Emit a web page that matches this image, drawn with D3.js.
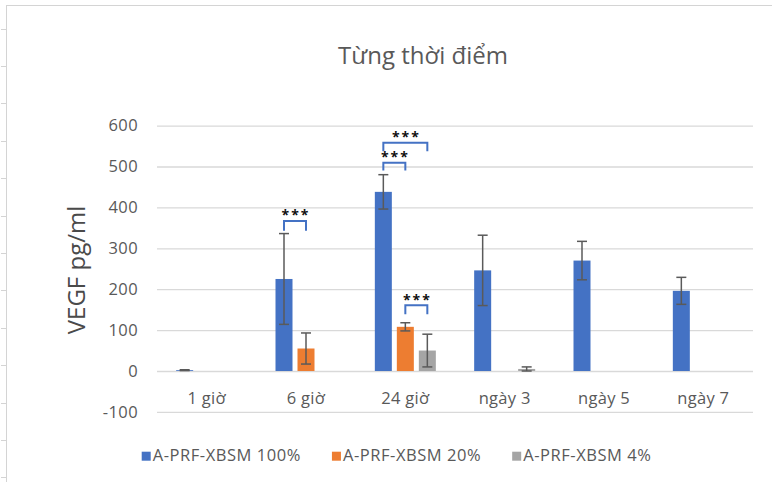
<!DOCTYPE html>
<html>
<head>
<meta charset="utf-8">
<script src="https://cdn.jsdelivr.net/npm/d3@7"></script>
<style>
  html, body { margin: 0; padding: 0; background: #ffffff; }
  svg { display: block; }
  text { font-family: "Open Sans", "Noto Sans", sans-serif; }
</style>
</head>
<body>
<svg id="chart" width="772" height="482"></svg>
<script>
// Categories (time points) and series
const categories = ["1 giờ", "6 giờ", "24 giờ", "ngày 3", "ngày 5", "ngày 7"];
const seriesNames = ["A-PRF-XBSM 100%", "A-PRF-XBSM 20%", "A-PRF-XBSM 4%"];

// VEGF (pg/ml) means and error (±) per series; null = not drawn
const values100 = [2, 225, 438, 246, 270, 196];
const errors100 = [1, 111, 42, 86, 47, 33];
const values20  = [null, 55, 108, null, null, null];
const errors20  = [null, 38, 10, null, null, null];
const values4   = [null, null, 50, 5, null, null];
const errors4   = [null, null, 40, 5, null, null];

const yTicks = [-100, 0, 100, 200, 300, 400, 500, 600];

// Significance brackets: category, series pair, bracket level and leg end (pg/ml)
const sigCategory = ["6 giờ", "24 giờ", "24 giờ", "24 giờ"];
const sigFrom     = [0, 0, 0, 1];
const sigTo       = [1, 1, 2, 2];
const sigLevel    = [367, 509, 558, 161];
const sigLegEnd   = [343, 490, 537, 139];
const sigLabel    = ["***", "***", "***", "***"];

const colors = ["#4472C4", "#ED7D31", "#A5A5A5"];
const textColor = "#595959";

const svg = d3.select("#chart");

// frame lines of the sheet area
const frame = svg.append("g").attr("stroke", "#d4d4d4").attr("stroke-width", 1);
frame.append("line").attr("x1", 6).attr("x2", 772).attr("y1", 5.5).attr("y2", 5.5);
frame.append("line").attr("x1", 6.5).attr("x2", 6.5).attr("y1", 5).attr("y2", 482);
d3.range(28.5, 482, 37.4).forEach(y => {
  frame.append("line").attr("x1", 1).attr("x2", 6).attr("y1", Math.round(y) + 0.5).attr("y2", Math.round(y) + 0.5);
});

const x = d3.scaleBand().domain(categories).range([157, 753]).padding(0);
const sub = d3.scalePoint().domain([0, 1, 2]).range([-22, 22]);
const barW = 17;
const y = d3.scaleLinear().domain([-100, 600]).range([411.9, 125.6]);

// gridlines + y tick labels
const yAxis = d3.axisLeft(y).tickValues(yTicks).tickFormat(d => String(d))
  .tickSize(-(753 - 157)).tickPadding(19);
const gy = svg.append("g").attr("transform", "translate(157,0)").call(yAxis);
gy.select(".domain").remove();
gy.selectAll(".tick line").attr("stroke", "#d9d9d9").attr("stroke-width", 1.3);
gy.selectAll(".tick text").attr("fill", textColor).attr("font-size", 16.5)
  .attr("letter-spacing", 0.4)
  .attr("font-family", "'Open Sans', sans-serif");

// x category labels
const xAxis = d3.axisBottom(x).tickSize(0).tickPadding(0);
const gx = svg.append("g").attr("transform", "translate(0,388)").call(xAxis);
gx.select(".domain").remove();
gx.selectAll(".tick text").attr("fill", textColor).attr("font-size", 16.5)
  .attr("letter-spacing", 0.3)
  .attr("font-family", "'Open Sans', sans-serif").attr("dy", "0.95em");

// bars
const seriesVals = [values100, values20, values4];
const seriesErrs = [errors100, errors20, errors4];
const barData = [];
seriesVals.forEach((vals, s) => {
  vals.forEach((v, i) => {
    if (v !== null) barData.push({ cat: categories[i], s, v, e: seriesErrs[s][i] });
  });
});
const cx = d => x(d.cat) + x.bandwidth() / 2 + sub(d.s);

svg.append("g").selectAll("rect").data(barData).join("rect")
  .attr("x", d => cx(d) - barW / 2)
  .attr("width", barW)
  .attr("y", d => y(Math.max(d.v, 0)))
  .attr("height", d => Math.abs(y(d.v) - y(0)))
  .attr("fill", d => colors[d.s]);

// error bars
const eg = svg.append("g").attr("stroke", "#5a5a5a").attr("stroke-width", 1.5);
barData.forEach(d => {
  const hi = y(d.v + d.e), lo = y(d.v - d.e), c = cx(d);
  eg.append("line").attr("x1", c).attr("x2", c).attr("y1", hi).attr("y2", lo);
  eg.append("line").attr("x1", c - 5).attr("x2", c + 5).attr("y1", hi).attr("y2", hi);
  eg.append("line").attr("x1", c - 5).attr("x2", c + 5).attr("y1", lo).attr("y2", lo);
});

// significance brackets
const bg = svg.append("g");
sigCategory.forEach((cat, i) => {
  const base = x(cat) + x.bandwidth() / 2;
  const x1 = base + sub(sigFrom[i]);
  const x2 = base + sub(sigTo[i]);
  const ly = y(sigLevel[i]);
  const le = y(sigLegEnd[i]);
  bg.append("path")
    .attr("d", `M${x1},${le}V${ly}H${x2}V${le}`)
    .attr("fill", "none").attr("stroke", "#4472C4").attr("stroke-width", 2);
  bg.append("text")
    .attr("x", (x1 + x2) / 2 + 1).attr("y", ly - 0.5)
    .attr("text-anchor", "middle")
    .attr("font-size", 14).attr("font-weight", 700)
    .attr("letter-spacing", 2)
    .attr("fill", "#111")
    .text(sigLabel[i]);
});

// title
svg.append("text")
  .attr("x", 423).attr("y", 64)
  .attr("text-anchor", "middle")
  .attr("font-size", 24)
  .attr("fill", textColor)
  .text("Từng thời điểm");

// y axis title
svg.append("text")
  .attr("transform", "translate(85,270) rotate(-90)")
  .attr("text-anchor", "middle")
  .attr("font-size", 24)
  .attr("fill", "#4a4a4a")
  .text("VEGF pg/ml");

// legend
const legend = svg.append("g").attr("transform", "translate(141.7,0)");
let lx = 0;
seriesNames.forEach((name, i) => {
  const item = legend.append("g").attr("transform", `translate(${lx},0)`);
  item.append("rect").attr("x", 0).attr("y", 451.7).attr("width", 9).attr("height", 9).attr("fill", colors[i]);
  const t = item.append("text").attr("x", 11).attr("y", 460.7)
    .attr("font-size", 16.5).attr("letter-spacing", 0.55).attr("fill", textColor).text(name);
  lx += 11 + t.node().getComputedTextLength() + 31;
});
</script>
</body>
</html>
